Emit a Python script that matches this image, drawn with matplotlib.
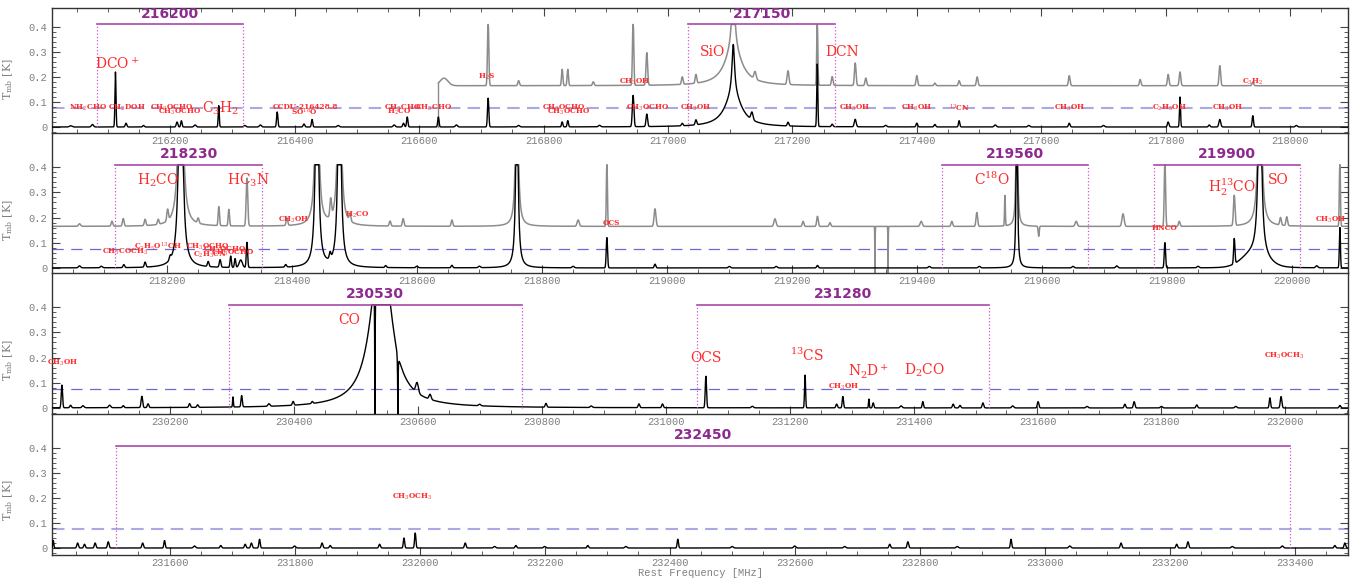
import numpy as np
import matplotlib
matplotlib.use("Agg")
import matplotlib.pyplot as plt
from matplotlib.ticker import MultipleLocator, FixedLocator, FuncFormatter

plt.rcParams['font.family'] = ['Liberation Mono', 'DejaVu Sans Mono']
plt.rcParams['mathtext.fontset'] = 'dejavuserif'

CLIP = 0.41          # spectra are cut at this level
DASH_LEVEL = 0.075   # threshold line
GRAY_BASE = 0.165    # offset of the gray comparison spectrum

# ---------------- panel 1 : 216010 - 218093 MHz ----------------
p1_range = (216010, 218093)
# (freq MHz, peak K, FWHM MHz)
p1_black_gauss = [
    (216040, 0.005, 5), (216075, 0.01, 4), (216112, 0.22, 2.0), (216129, 0.015, 3),
    (216157, 0.006, 3), (216211, 0.02, 3), (216218, 0.025, 2.5), (216240, 0.008, 4),
    (216278, 0.085, 2.0), (216320, 0.006, 4), (216345, 0.008, 4), (216372, 0.06, 2.5),
    (216415, 0.012, 3), (216428, 0.03, 2.5), (216470, 0.006, 4), (216560, 0.008, 4),
    (216575, 0.015, 3), (216581, 0.04, 2.5), (216631, 0.04, 2.5), (216660, 0.008, 4),
    (216711, 0.115, 2.5), (216760, 0.006, 4), (216830, 0.02, 2.5), (216839, 0.025, 2.5),
    (216890, 0.006, 4), (216944, 0.125, 3), (216966, 0.05, 3), (217023, 0.01, 3),
    (217045, 0.02, 3), (217135, 0.03, 4), (217193, 0.015, 3), (217240, 0.25, 2.0),
    (217264, 0.01, 3), (217301, 0.03, 3.5), (217350, 0.006, 4), (217400, 0.015, 3),
    (217429, 0.01, 3), (217468, 0.025, 2.5), (217526, 0.008, 4), (217580, 0.006, 4),
    (217645, 0.015, 3), (217700, 0.006, 4), (217804, 0.02, 3), (217823, 0.12, 2.0),
    (217870, 0.008, 3), (217887, 0.03, 3.5), (217940, 0.045, 2.5), (218010, 0.006, 4),
]
# (freq MHz, peak K, HWHM MHz)
p1_black_lorentz = [(217105, 0.2, 2.5), (217105, 0.13, 16)]
p1_gray_start = 216631
p1_gray_gauss = [
    (216640, 0.03, 15), (216711, 0.26, 2.5), (216760, 0.02, 3), (216830, 0.065, 2.5),
    (216839, 0.065, 2.5), (216880, 0.015, 3), (216944, 0.26, 2.5), (216966, 0.13, 3),
    (217023, 0.03, 3), (217045, 0.035, 3), (217140, 0.03, 4), (217193, 0.055, 3.5),
    (217240, 0.26, 2.0), (217264, 0.035, 3), (217301, 0.09, 3), (217318, 0.03, 3),
    (217400, 0.04, 3), (217429, 0.01, 3), (217468, 0.02, 3), (217497, 0.035, 3),
    (217645, 0.04, 3), (217759, 0.025, 3), (217804, 0.045, 3), (217823, 0.055, 3),
    (217887, 0.08, 3), (217940, 0.015, 3),
]
p1_gray_lorentz = [(217105, 0.3, 2.5), (217105, 0.15, 16)]
p1_brackets = [("216200", 216083, 216317), ("217150", 217032, 217269)]
p1_big_labels = [("DCO$^+$", 216115, 0.255), ("C$_3$H$_2$", 216280, 0.075),
                 ("SiO", 217071, 0.30), ("DCN", 217280, 0.30)]
p1_small_labels = [
    ("NH$_2$CHO", 216068, 0.078), ("CH$_2$DOH", 216131, 0.078),
    ("CH$_3$OCHO", 216203, 0.078), ("CH$_3$OCHO", 216216, 0.06),
    ("CCDU-216428.8", 216417, 0.078), ("SO$^{18}$O", 216415, 0.06),
    ("CH$_3$CHO", 216573, 0.078), ("H$_2$CO", 216568, 0.06), ("CH$_3$CHO", 216624, 0.078),
    ("H$_2$S", 216709, 0.20), ("CH$_3$OCHO", 216832, 0.078), ("CH$_3$OCHO", 216840, 0.06),
    ("CH$_3$OH", 216946, 0.18), ("CH$_3$OCHO", 216967, 0.078), ("CH$_3$OH", 217045, 0.078),
    ("CH$_3$OH", 217300, 0.078), ("CH$_3$OH", 217400, 0.078), ("$^{13}$CN", 217468, 0.078),
    ("CH$_3$OH", 217645, 0.078), ("C$_2$H$_5$OH", 217806, 0.078), ("CH$_3$OH", 217899, 0.078),
    ("C$_3$H$_2$", 217940, 0.18),
]

# ---------------- panel 2 : 218016 - 220090 MHz ----------------
p2_range = (218016, 220090)
p2_black_gauss = [
    (218060, 0.008, 4), (218095, 0.006, 4), (218131, 0.012, 3), (218165, 0.02, 3),
    (218205, 0.015, 3), (218266, 0.02, 3), (218285, 0.03, 3), (218302, 0.045, 2.5),
    (218309, 0.035, 2.5), (218318, 0.03, 6), (218328, 0.1, 2.5), (218390, 0.01, 3),
    (218461, 0.025, 3), (218550, 0.008, 3), (218600, 0.006, 4), (218656, 0.01, 3),
    (218700, 0.006, 4), (218850, 0.006, 4), (218904, 0.12, 2.5), (218981, 0.015, 3),
    (219100, 0.006, 4), (219175, 0.006, 4), (219241, 0.01, 3), (219420, 0.006, 4),
    (219500, 0.006, 4), (219650, 0.006, 4), (219720, 0.008, 4), (219797, 0.1, 2.5),
    (219850, 0.006, 4), (219908, 0.1, 2.5), (219940, 0.055, 45), (220040, 0.008, 4),
    (220077, 0.16, 2.0),
]
p2_black_lorentz = [(218222, 1.2, 3.0), (218440, 1.0, 2.5), (218476, 1.0, 2.5),
                    (218760, 0.8, 2.0), (219560, 1.0, 1.0), (219949, 1.0, 2.5)]
p2_gray_start = 218016
p2_gray_gauss = [
    (218060, 0.01, 4), (218112, 0.02, 3), (218130, 0.03, 3), (218165, 0.025, 3),
    (218186, 0.02, 3), (218201, 0.045, 3), (218250, 0.02, 3), (218283, 0.075, 2.5),
    (218299, 0.065, 2.5), (218328, 0.19, 3), (218392, 0.03, 3), (218462, 0.07, 3),
    (218493, 0.03, 3), (218557, 0.02, 3), (218578, 0.03, 3), (218656, 0.025, 3),
    (218858, 0.025, 4), (218904, 0.26, 2.0), (218981, 0.07, 3.5), (219173, 0.03, 4),
    (219218, 0.02, 3), (219241, 0.04, 3), (219261, 0.015, 3), (219333, -0.185, 0.6),
    (219354, -0.185, 0.6), (219407, 0.02, 4), (219456, 0.02, 3), (219496, 0.055, 3),
    (219541, 0.12, 1.5), (219595, -0.04, 2), (219655, 0.02, 4), (219730, 0.05, 4),
    (219797, 0.26, 2.5), (219820, 0.02, 3), (219908, 0.12, 3), (219982, 0.03, 3),
    (219992, 0.035, 3), (220077, 0.26, 2.0),
]
p2_gray_lorentz = [(218222, 1.2, 3.0), (218440, 1.0, 2.5), (218476, 1.0, 2.5),
                   (218760, 0.8, 2.0), (219560, 1.0, 1.0), (219949, 1.0, 2.5)]
p2_brackets = [("218230", 218117, 218352), ("219560", 219440, 219674),
               ("219900", 219779, 220013)]
p2_big_labels = [("H$_2$CO", 218186, 0.35), ("HC$_3$N", 218330, 0.35),
                 ("C$^{18}$O", 219520, 0.35), ("H$_2^{13}$CO", 219904, 0.32),
                 ("SO", 219978, 0.35)]
p2_small_labels = [
    ("CH$_3$COCH$_3$", 218133, 0.063), ("C$_2$H$_5$O$^{13}$CH", 218186, 0.083),
    ("CH$_3$OCHO", 218266, 0.083), ("CH$_3$OCHO", 218292, 0.07),
    ("C$_2$H$_3$CN", 218269, 0.05), ("CH$_3$OCHO", 218306, 0.06),
    ("CH$_3$OH", 218403, 0.19), ("H$_2$CO", 218504, 0.21), ("OCS", 218912, 0.18),
    ("HNCO", 219797, 0.16), ("CH$_3$OH", 220062, 0.19),
]

# ---------------- panel 3 : 230010 - 232101 MHz ----------------
p3_range = (230010, 232101)
p3_black_gauss = [
    (230026, 0.09, 2.5), (230040, 0.01, 3), (230060, 0.008, 4), (230103, 0.01, 4),
    (230125, 0.008, 3), (230155, 0.045, 3), (230165, 0.015, 3), (230232, 0.015, 3),
    (230245, 0.01, 3), (230302, 0.04, 1.5), (230316, 0.045, 2.5), (230360, 0.01, 4),
    (230399, 0.015, 3), (230430, 0.008, 3), (230599, 0.04, 5), (230620, 0.02, 4),
    (230700, 0.006, 4), (230807, 0.015, 3), (230880, 0.006, 4), (230957, 0.015, 3),
    (230995, 0.015, 3), (231065, 0.125, 2.5), (231140, 0.006, 4), (231225, 0.13, 2.0),
    (231276, 0.015, 3), (231286, 0.045, 2.5), (231328, 0.035, 1.5), (231335, 0.02, 2.5),
    (231380, 0.008, 4), (231415, 0.025, 2.5), (231464, 0.015, 3), (231475, 0.01, 3),
    (231512, 0.02, 3), (231560, 0.008, 4), (231601, 0.025, 3), (231680, 0.006, 4),
    (231741, 0.015, 3), (231756, 0.025, 3), (231800, 0.006, 4), (231857, 0.012, 3),
    (231920, 0.006, 4), (231975, 0.04, 2.5), (231993, 0.045, 3), (232088, 0.01, 3),
]
p3_black_lorentz = [(230541, 0.7, 18), (230531, -0.6, 0.4), (230568, -0.25, 0.4)]
p3_brackets = [("230530", 230295, 230768), ("231280", 231051, 231522)]
p3_big_labels = [("CO", 230490, 0.35), ("OCS", 231065, 0.20), ("$^{13}$CS", 231228, 0.21),
                 ("N$_2$D$^+$", 231327, 0.15), ("D$_2$CO", 231417, 0.15)]
p3_small_labels = [("CH$_3$OH", 230027, 0.18), ("CH$_3$OH", 231288, 0.083),
                   ("CH$_3$OCH$_3$", 231998, 0.205)]

# ---------------- panel 4 : 231412 - 233485 MHz ----------------
p4_range = (231412, 233485)
p4_black_gauss = [
    (231414, 0.03, 2), (231453, 0.02, 3), (231464, 0.015, 3), (231481, 0.02, 3),
    (231502, 0.025, 3), (231557, 0.02, 3), (231592, 0.03, 2.5), (231640, 0.008, 4),
    (231682, 0.01, 3), (231721, 0.015, 3), (231731, 0.02, 3), (231744, 0.035, 2.5),
    (231800, 0.008, 4), (231844, 0.02, 3), (231857, 0.01, 3), (231936, 0.015, 3),
    (231975, 0.04, 2.5), (231993, 0.06, 2.5), (232073, 0.02, 3), (232120, 0.006, 4),
    (232154, 0.01, 3), (232200, 0.006, 4), (232269, 0.01, 3), (232330, 0.006, 4),
    (232413, 0.035, 2.5), (232500, 0.006, 4), (232600, 0.008, 4), (232680, 0.006, 4),
    (232752, 0.015, 3), (232781, 0.025, 3), (232860, 0.006, 4), (232946, 0.035, 2.5),
    (233040, 0.008, 4), (233122, 0.02, 3), (233211, 0.015, 3), (233229, 0.025, 3),
    (233300, 0.006, 4), (233380, 0.008, 4), (233464, 0.01, 3), (233480, 0.02, 3),
]
p4_black_lorentz = []
p4_brackets = [("232450", 231514, 233393)]
p4_big_labels = []
p4_small_labels = [("CH$_3$OCH$_3$", 231988, 0.205)]


def spectrum(freq, gauss, lorentz, base=0.0):
    y = np.full_like(freq, base)
    for f0, a, w in gauss:
        s = w / 2.3548
        y += a * np.exp(-0.5 * ((freq - f0) / s) ** 2)
    for f0, a, g in lorentz:
        y += a / (1 + ((freq - f0) / g) ** 2)
    return np.minimum(y, CLIP)


fig = plt.figure(figsize=(13.68, 5.78), dpi=100)
left, width = 52 / 1368, 1296 / 1368
# (bottom, top) in figure fraction, y-limits
boxes = [((0.7699, 0.9862), (-0.024, 0.476)),
         ((0.5277, 0.7699), (-0.020, 0.536)),
         ((0.2837, 0.5277), (-0.024, 0.536)),
         ((0.0398, 0.2837), (-0.028, 0.536))]

panels = [
    (p1_range, p1_black_gauss, p1_black_lorentz, p1_gray_start, p1_gray_gauss, p1_gray_lorentz,
     p1_brackets, p1_big_labels, p1_small_labels, '#a9a9e6', 1.5),
    (p2_range, p2_black_gauss, p2_black_lorentz, p2_gray_start, p2_gray_gauss, p2_gray_lorentz,
     p2_brackets, p2_big_labels, p2_small_labels, '#6b6bd6', 0.9),
    (p3_range, p3_black_gauss, p3_black_lorentz, None, None, None,
     p3_brackets, p3_big_labels, p3_small_labels, '#6b6bd6', 0.9),
    (p4_range, p4_black_gauss, p4_black_lorentz, None, None, None,
     p4_brackets, p4_big_labels, p4_small_labels, '#a9a9e6', 1.5),
]

gray_txt = '#7f7f7f'
red = '#ff2a2a'

for i, (panel, box) in enumerate(zip(panels, boxes)):
    (rng, bg, bl, gstart, gg, gl, brackets, big, small, dcol, dlw) = panel
    (b, t), ylim = box
    ax = fig.add_axes([left, b, width, t - b])
    ax.patch.set_visible(False)   # keep tick labels of the panel above visible

    freq = np.arange(rng[0], rng[1] + 0.5, 0.5)
    black = spectrum(freq, bg, bl)

    ax.plot(rng, [DASH_LEVEL, DASH_LEVEL], color=dcol, lw=dlw,
            dashes=(6, 3.5) if dlw > 1 else (9, 6), zorder=1)

    if gstart is not None:
        fg = freq[freq >= gstart]
        gray = spectrum(fg, gg, gl, base=GRAY_BASE)
        ax.plot(fg, gray, color='#8c8c8c', lw=1.1, zorder=2)
        if gstart > rng[0]:
            ax.plot([gstart, gstart], [0.0, gray[0]], color='#8c8c8c', lw=1.0, zorder=2)

    ax.plot(freq, black, color='black', lw=1.0, zorder=3)

    for name, lo, hi in brackets:
        ax.plot([lo, hi], [CLIP, CLIP], color='#a84aa8', lw=1.2, zorder=4)
        ax.plot([lo, lo], [0.0, CLIP], color='#d055d0', lw=0.9, ls=':', zorder=4)
        ax.plot([hi, hi], [0.0, CLIP], color='#d055d0', lw=0.9, ls=':', zorder=4)
        ax.text((lo + hi) / 2, 0.425, name, ha='center', va='bottom', color='#8e2a8e',
                fontsize=10, fontweight='bold', family='DejaVu Sans', zorder=5)

    for txt, x, y in big:
        ax.text(x, y, txt, ha='center', va='center', color=red, fontsize=10,
                family='DejaVu Serif', zorder=6)
    for txt, x, y in small:
        ax.text(x, y, txt, ha='center', va='center', color=red, fontsize=5.3,
                fontweight='bold', family='DejaVu Serif', zorder=6)

    ax.set_xlim(rng)
    ax.set_ylim(ylim)
    ax.xaxis.set_major_locator(MultipleLocator(200))
    ax.xaxis.set_minor_locator(MultipleLocator(50))
    ax.xaxis.set_major_formatter(FuncFormatter(lambda v, p: '%d' % round(v)))
    ax.yaxis.set_major_locator(FixedLocator([0, 0.1, 0.2, 0.3, 0.4]))
    ax.yaxis.set_minor_locator(FixedLocator(np.arange(-0.02, 0.41, 0.02)))
    ax.yaxis.set_major_formatter(FuncFormatter(lambda v, p: '0' if abs(v) < 1e-9 else '%.1f' % v))
    ax.tick_params(which='both', direction='in', top=(i == 0), right=True,
                   color='#444444', labelcolor=gray_txt, labelsize=7.5)
    ax.tick_params(which='major', length=6, width=0.8)
    ax.tick_params(which='minor', length=3, width=0.6)
    ax.tick_params(axis='x', pad=2)
    if i > 0:
        ax.spines['top'].set_visible(False)
    for sp in ax.spines.values():
        sp.set_color('#333333')
        sp.set_linewidth(1.0)

    ax.set_ylabel('T$_{\\rm mb}$ [K]', color=gray_txt, fontsize=8, family='DejaVu Serif')
    ax.yaxis.set_label_coords(-0.0285, (0.19 - ylim[0]) / (ylim[1] - ylim[0]))

    if i == 3:
        ax.set_xlabel('Rest Frequency [MHz]', color=gray_txt, fontsize=7.5, labelpad=0)

fig.savefig('out.png', dpi=100)
